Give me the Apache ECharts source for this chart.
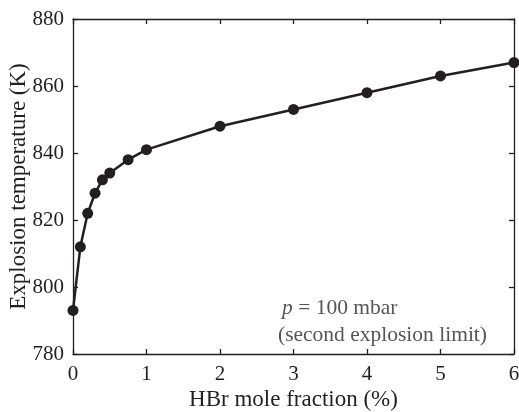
<!DOCTYPE html>
<html>
<head>
<meta charset="utf-8">
<script src="https://cdn.jsdelivr.net/npm/echarts@6/dist/echarts.min.js"></script>
<style>html,body{margin:0;padding:0;background:#fff}#c{width:519px;height:412px}</style>
</head>
<body>
<div id="c"></div>
<script>
const hbrFraction = [0, 0.1, 0.2, 0.3, 0.4, 0.5, 0.75, 1, 2, 3, 4, 5, 6];
const explosionTemp = [793, 812, 822, 828, 832, 834, 838, 841, 848, 853, 858, 863, 867];
const xTitle = 'HBr mole fraction (%)';
const yTitle = 'Explosion temperature (K)';

const font = '"Liberation Serif", "DejaVu Serif", serif';
const ink = '#231f20';
const chart = echarts.init(document.getElementById('c'), null, {renderer: 'canvas'});
const axisCommon = {
  axisLine: {show: true, onZero: false, lineStyle: {color: ink, width: 1.3}},
  axisTick: {show: true, inside: true, length: 5, lineStyle: {color: ink, width: 1.3}},
  splitLine: {show: false}
};
chart.setOption({
  animation: false,
  backgroundColor: '#fff',
  grid: {left: 73, right: 5, top: 19, bottom: 58, containLabel: false, outerBoundsMode: 'none'},
  xAxis: [
    Object.assign({type: 'value', min: 0, max: 6, interval: 1, position: 'bottom',
      name: xTitle, nameLocation: 'middle', nameGap: 34, nameMoveOverlap: false,
      nameTextStyle: {fontFamily: font, fontSize: 23, color: ink},
      axisLabel: {fontFamily: font, fontSize: 21, color: ink, margin: 10}}, axisCommon),
    Object.assign({type: 'value', min: 0, max: 6, interval: 1, position: 'top',
      axisLabel: {show: false}}, axisCommon)
  ],
  yAxis: [
    Object.assign({type: 'value', min: 780, max: 880, interval: 20, position: 'left',
      name: yTitle, nameLocation: 'middle', nameGap: 43, nameMoveOverlap: false,
      nameTextStyle: {fontFamily: font, fontSize: 23, color: ink},
      axisLabel: {fontFamily: font, fontSize: 21, color: ink, margin: 9}}, axisCommon),
    Object.assign({type: 'value', min: 780, max: 880, interval: 20, position: 'right',
      axisLabel: {show: false}}, axisCommon)
  ],
  series: [{
    type: 'line',
    data: hbrFraction.map((x, i) => [x, explosionTemp[i]]),
    symbol: 'circle', symbolSize: 11,
    lineStyle: {color: ink, width: 2.5},
    itemStyle: {color: ink},
    clip: false
  }],
  graphic: [
    {type: 'text', left: 282, top: 297, style: {
      text: '{i|p} = 100 mbar', fontFamily: font, fontSize: 21.5, fill: '#555',
      rich: {i: {fontFamily: font, fontStyle: 'italic', fontSize: 21.5, fill: '#555'}}}},
    {type: 'text', left: 278, top: 324, style: {
      text: '(second explosion limit)', fontFamily: font, fontSize: 21.5, fill: '#555'}}
  ]
});
</script>
</body>
</html>
